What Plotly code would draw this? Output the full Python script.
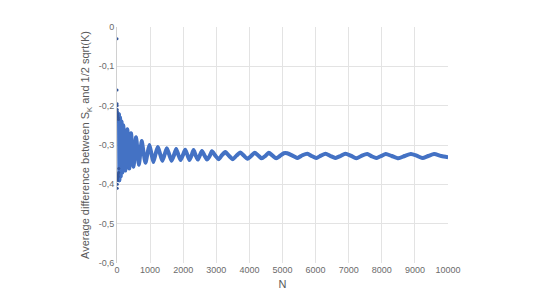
import plotly.graph_objects as go

# Early isolated points (N, value)
early_n = [1, 2, 3, 4, 6, 8, 10, 12, 15, 18, 20, 25, 30, 35, 40, 45, 50, 55]
early_v = [-0.03, -0.16, -0.195, -0.20, -0.41, -0.21, -0.40, -0.215, -0.385,
           -0.22, -0.39, -0.225, -0.375, -0.23, -0.38, -0.235, -0.37, -0.36]

# Oscillating series: peaks, troughs and crossings
n_vals = [60, 75, 95, 115, 140, 165, 190, 250, 312, 370, 424, 500, 576, 660,
          747, 800, 860, 920, 980, 1040, 1100, 1165, 1233, 1300, 1370, 1440,
          1505, 1580, 1650, 1720, 1787, 1850, 1920, 1990, 2060, 2125, 2190, 2250,
          2313, 2375, 2440, 2500, 2566, 2640, 2720, 2800, 2869, 2970, 3070, 3170,
          3272, 3390, 3500, 3610, 3727, 3830, 3940, 4050, 4160, 4260, 4370, 4480,
          4585, 4700, 4810, 4920, 5040, 5140, 5300, 5450, 5600, 5750, 5880, 6020,
          6160, 6300, 6450, 6600, 6750, 6900, 7060, 7230, 7400, 7560, 7700, 7840,
          7980, 8120, 8300, 8500, 8690, 8880, 9050, 9230, 9400, 9580, 9800, 10000]
v_vals = [-0.22, -0.39, -0.23, -0.38, -0.24, -0.37, -0.25, -0.365, -0.26, -0.36, -0.27, -0.355, -0.28, -0.35,
          -0.29, -0.318, -0.345, -0.322, -0.30, -0.322, -0.343, -0.323, -0.305, -0.322, -0.34, -0.324,
          -0.308, -0.325, -0.34, -0.326, -0.31, -0.324, -0.338, -0.326, -0.312, -0.325, -0.338, -0.327,
          -0.313, -0.326, -0.337, -0.327, -0.315, -0.326, -0.337, -0.328, -0.316, -0.327, -0.336, -0.326,
          -0.318, -0.328, -0.336, -0.327, -0.319, -0.327, -0.335, -0.328, -0.32, -0.326, -0.334, -0.328,
          -0.32, -0.327, -0.334, -0.328, -0.321, -0.321, -0.327, -0.333, -0.326, -0.322, -0.328, -0.333,
          -0.327, -0.322, -0.328, -0.333, -0.328, -0.322, -0.327, -0.334, -0.327, -0.323, -0.329, -0.333,
          -0.328, -0.323, -0.328, -0.334, -0.328, -0.323, -0.327, -0.333, -0.328, -0.323, -0.328, -0.331]

y_ticks = [0, -0.1, -0.2, -0.3, -0.4, -0.5, -0.6]
y_labels = ["0", "-0,1", "-0,2", "-0,3", "-0,4", "-0,5", "-0,6"]
x_ticks = [0, 1000, 2000, 3000, 4000, 5000, 6000, 7000, 8000, 9000, 10000]
x_labels = [str(t) for t in x_ticks]

blue = "#4472C4"
fig = go.Figure()
fig.add_trace(go.Scatter(x=n_vals, y=v_vals, mode="lines+markers",
                         line=dict(color=blue, width=4, shape="spline", smoothing=0.6),
                         marker=dict(color=blue, size=3), showlegend=False))
fig.add_trace(go.Scatter(x=early_n, y=early_v, mode="markers",
                         marker=dict(color="#34569A", size=3), showlegend=False))

tick_font = dict(family="Liberation Sans", size=9, color="#6B6B6B")
fig.update_layout(
    width=540, height=304,
    margin=dict(l=117, r=92, t=27, b=41),
    paper_bgcolor="white", plot_bgcolor="white",
    font=dict(family="Liberation Sans", color="#595959"),
    xaxis=dict(range=[0, 10000], tickvals=x_ticks, ticktext=x_labels,
               showgrid=True, gridcolor="#E3E3E3", gridwidth=1,
               zeroline=False, showline=False, ticks="", tickfont=tick_font,
               title=dict(text="N", font=dict(size=11, color="#595959"), standoff=6)),
    yaxis=dict(range=[-0.6, 0], tickvals=y_ticks, ticktext=y_labels,
               showgrid=True, gridcolor="#E3E3E3", gridwidth=1,
               zeroline=False, showline=True, linecolor="#D0D0D0", ticks="",
               tickfont=tick_font,
               title=dict(text="Average difference between S<sub>K</sub> and 1/2 sqrt(K)",
                          font=dict(size=11, color="#595959"), standoff=6)),
)
fig.write_html("out.html")
